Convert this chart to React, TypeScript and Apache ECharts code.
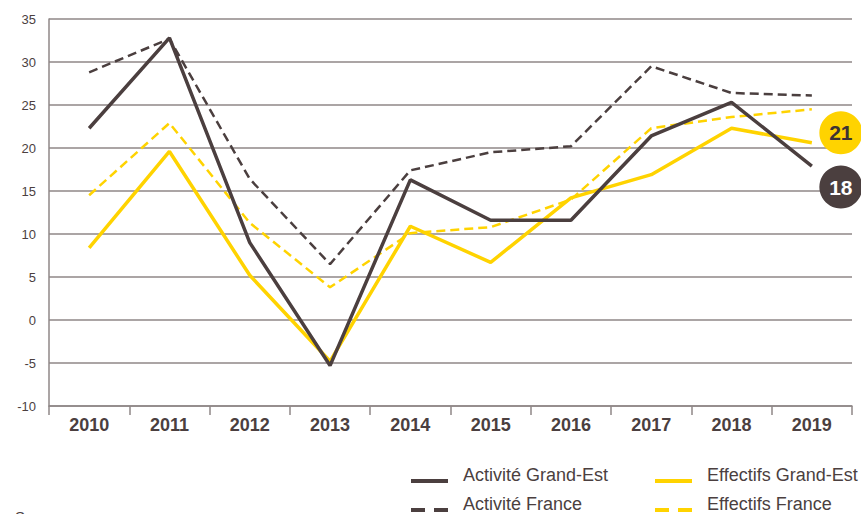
import React, { useEffect, useRef } from "react";
import * as echarts from "echarts";

const years = ["2010", "2011", "2012", "2013", "2014", "2015", "2016", "2017", "2018", "2019"];
const activiteGrandEst = [22.3, 32.8, 9.0, -5.3, 16.3, 11.6, 11.6, 21.4, 25.3, 17.9];
const activiteFrance = [28.8, 32.7, 16.4, 6.5, 17.4, 19.5, 20.2, 29.5, 26.4, 26.1];
const effectifsGrandEst = [8.4, 19.6, 5.2, -4.8, 10.9, 6.7, 14.2, 16.9, 22.3, 20.6];
const effectifsFrance = [14.5, 22.9, 11.3, 3.8, 10.1, 10.8, 14.0, 22.3, 23.6, 24.5];
const yTicks = { min: -10, max: 35, interval: 5 };

const DARK = "#4b3f3f";
const YELLOW = "#ffd300";
const GRID = "#8f8787";
const FONT = "Liberation Sans";

const SOLID_ICON = "path://M0,0h0.01v0.01h-0.01z M0,12h37v4h-37z";
const DASH_ICON = "path://M0,0h0.01v0.01h-0.01z M0,12h14v4h-14z M23,12h14v4h-14z";

export default function App() {
  const ref = useRef<HTMLDivElement>(null);
  useEffect(() => {
    document.body.style.margin = "0";
    const chart = echarts.init(ref.current!, null, { renderer: "svg" });
    const last = (a: number[]) => a[a.length - 1];
    const badge = (arr: number[], bg: string, fg: string, dy: number) => ({
      symbol: "circle",
      symbolSize: 43,
      data: [
        {
          coord: [arr.length - 1, last(arr)],
          value: Math.round(last(arr)),
          symbolOffset: [29, dy],
          itemStyle: { color: bg },
          label: {
            show: true,
            formatter: String(Math.round(last(arr))),
            color: fg,
            fontSize: 21,
            fontWeight: "bold",
            fontFamily: FONT,
          },
        },
      ],
    });
    const legendItem = (name: string, icon: string, color: string, left: number, top: number) => ({
      left,
      top,
      orient: "horizontal",
      itemWidth: 37,
      itemHeight: 16,
      textStyle: { color: DARK, fontSize: 18, fontFamily: FONT, padding: [0, 0, 0, 10] },
      data: [
        {
          name,
          icon,
          itemStyle: { color, borderWidth: 0, borderColor: "transparent" },
          lineStyle: { width: 0, type: "solid", color: "transparent" },
        },
      ],
    });
    chart.setOption({
      animation: false,
      textStyle: { fontFamily: FONT },
      grid: { left: 49, right: 9, top: 19, bottom: 108 },
      xAxis: {
        type: "category",
        data: years,
        boundaryGap: true,
        axisLine: { show: true, onZero: false, lineStyle: { color: GRID, width: 1.5 } },
        axisTick: { show: true, length: 9, lineStyle: { color: GRID, width: 1.5 } },
        axisLabel: { color: DARK, fontSize: 18, fontWeight: "bold", margin: 10, fontFamily: FONT },
      },
      yAxis: {
        type: "value",
        min: yTicks.min,
        max: yTicks.max,
        interval: yTicks.interval,
        axisLine: { show: true, lineStyle: { color: GRID, width: 1.5 } },
        axisTick: { show: false },
        axisLabel: { color: DARK, fontSize: 13, margin: 13, fontFamily: FONT },
        splitLine: { lineStyle: { color: GRID, width: 1.5 } },
      },
      legend: [
        legendItem("Activité Grand-Est", SOLID_ICON, DARK, 406, 461),
        legendItem("Activité France", DASH_ICON, DARK, 406, 490),
        legendItem("Effectifs Grand-Est", SOLID_ICON, YELLOW, 650, 461),
        legendItem("Effectifs France", DASH_ICON, YELLOW, 650, 490),
      ],
      graphic: [
        {
          type: "text",
          left: 15,
          top: 509,
          style: { text: "Source :", fontSize: 15, fill: DARK, fontFamily: FONT },
        },
      ],
      series: [
        {
          name: "Activité France",
          type: "line",
          data: activiteFrance,
          symbol: "none",
          color: DARK,
          lineStyle: { color: DARK, width: 2.5, type: [9, 5] },
          z: 2,
        },
        {
          name: "Effectifs France",
          type: "line",
          data: effectifsFrance,
          symbol: "none",
          color: YELLOW,
          lineStyle: { color: YELLOW, width: 2.5, type: [9, 5] },
          z: 2,
        },
        {
          name: "Effectifs Grand-Est",
          type: "line",
          data: effectifsGrandEst,
          symbol: "none",
          color: YELLOW,
          lineStyle: { color: YELLOW, width: 3.5 },
          markPoint: badge(effectifsGrandEst, YELLOW, "#3d3333", -10),
          z: 3,
        },
        {
          name: "Activité Grand-Est",
          type: "line",
          data: activiteGrandEst,
          symbol: "none",
          color: DARK,
          lineStyle: { color: DARK, width: 3.5 },
          markPoint: badge(activiteGrandEst, DARK, "#ffffff", 21),
          z: 4,
        },
      ],
    });
    return () => chart.dispose();
  }, []);
  return <div ref={ref} style={{ width: 861, height: 514 }} />;
}
